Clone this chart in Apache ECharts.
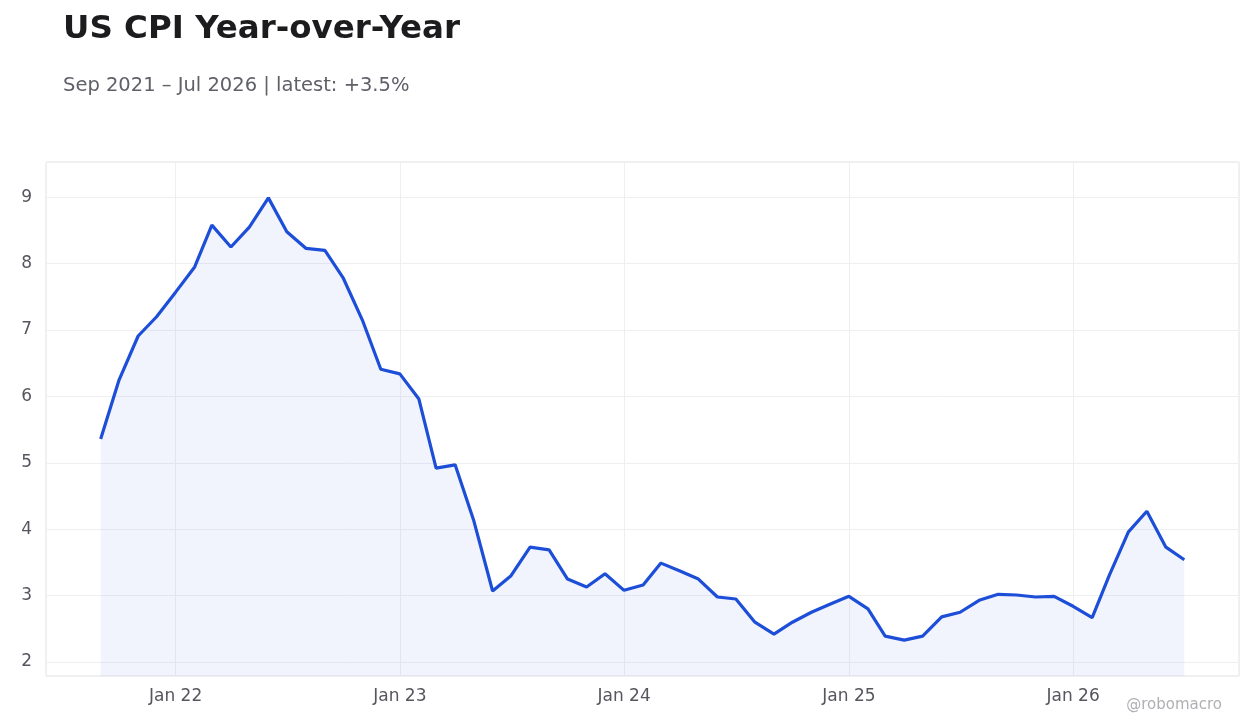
<!DOCTYPE html>
<html>
<head>
<meta charset="utf-8">
<script src="https://cdn.jsdelivr.net/npm/echarts@6/dist/echarts.min.js"></script>
<style>html,body{margin:0;padding:0;background:#fff}#main{width:1260px;height:728px}</style>
</head>
<body>
<div id="main"></div>
<script>
// monthly dates, Sep 2021 - Jul 2026
var startYear = 2021, startMonth = 8;
var cpiValues = [5.36, 6.25, 6.91, 7.2, 7.57, 7.95, 8.58, 8.25, 8.55, 8.99, 8.48, 8.23,
    8.2, 7.78, 7.15, 6.41, 6.34, 5.96, 4.92, 4.97, 4.14, 3.07, 3.3, 3.73,
    3.69, 3.25, 3.13, 3.33, 3.08, 3.16, 3.49, 3.37, 3.25, 2.98, 2.95, 2.6,
    2.42, 2.6, 2.75, 2.87, 2.99, 2.8, 2.39, 2.33, 2.39, 2.68, 2.75, 2.93,
    3.02, 3.01, 2.98, 2.99, 2.84, 2.67, 3.31, 3.96, 4.27, 3.73, 3.54];

var chart = echarts.init(document.getElementById('main'));
var points = cpiValues.map(function (v, i) {
    return [new Date(startYear, startMonth + i, 1).getTime(), v];
});

chart.setOption({
    backgroundColor: '#fff',
    title: [{
        text: 'US CPI Year-over-Year',
        left: 58, top: 8,
        textStyle: { fontFamily: 'DejaVu Sans', fontSize: 32.5, fontWeight: 'bold', color: '#1c1c1e' }
    }, {
        text: 'Sep 2021 – Jul 2026 | latest: +3.5%',
        left: 58, top: 71,
        textStyle: { fontFamily: 'DejaVu Sans', fontSize: 19.5, fontWeight: 'normal', color: '#5f6068' }
    }],
    graphic: [{
        type: 'text', right: 38, bottom: 15,
        style: { text: '@robomacro', font: '15px DejaVu Sans', fill: '#b0b0b4' }
    }],
    grid: { left: 46, right: 21, top: 162, bottom: 52, show: true, borderColor: '#e2e2e6', borderWidth: 1 },
    xAxis: {
        type: 'time',
        min: new Date(2021, 5, 4).getTime(),
        max: new Date(2026, 8, 28).getTime(),
        axisLine: { show: false },
        axisTick: { show: false },
        splitLine: { show: true, lineStyle: { color: '#efeff2' } },
        axisLabel: {
            fontFamily: 'DejaVu Sans', fontSize: 17, color: '#55565e', margin: 12,
            formatter: function (val) {
                var d = new Date(val);
                return d.getMonth() === 0 ? 'Jan ' + String(d.getFullYear()).slice(2) : '';
            }
        }
    },
    yAxis: {
        type: 'value',
        min: 1.79, max: 9.53, splitNumber: 8,
        axisLine: { show: false },
        axisTick: { show: false },
        splitLine: { lineStyle: { color: '#efeff2' } },
        axisLabel: { fontFamily: 'DejaVu Sans', fontSize: 17, color: '#55565e', showMinLabel: false, showMaxLabel: false, margin: 14 }
    },
    series: [{
        type: 'line',
        data: points,
        showSymbol: false,
        lineStyle: { color: '#1d4ed8', width: 3.2 },
        areaStyle: { color: 'rgba(29,78,216,0.09)', origin: 'start' },
        itemStyle: { color: '#1d4ed8' }
    }]
});
</script>
</body>
</html>
